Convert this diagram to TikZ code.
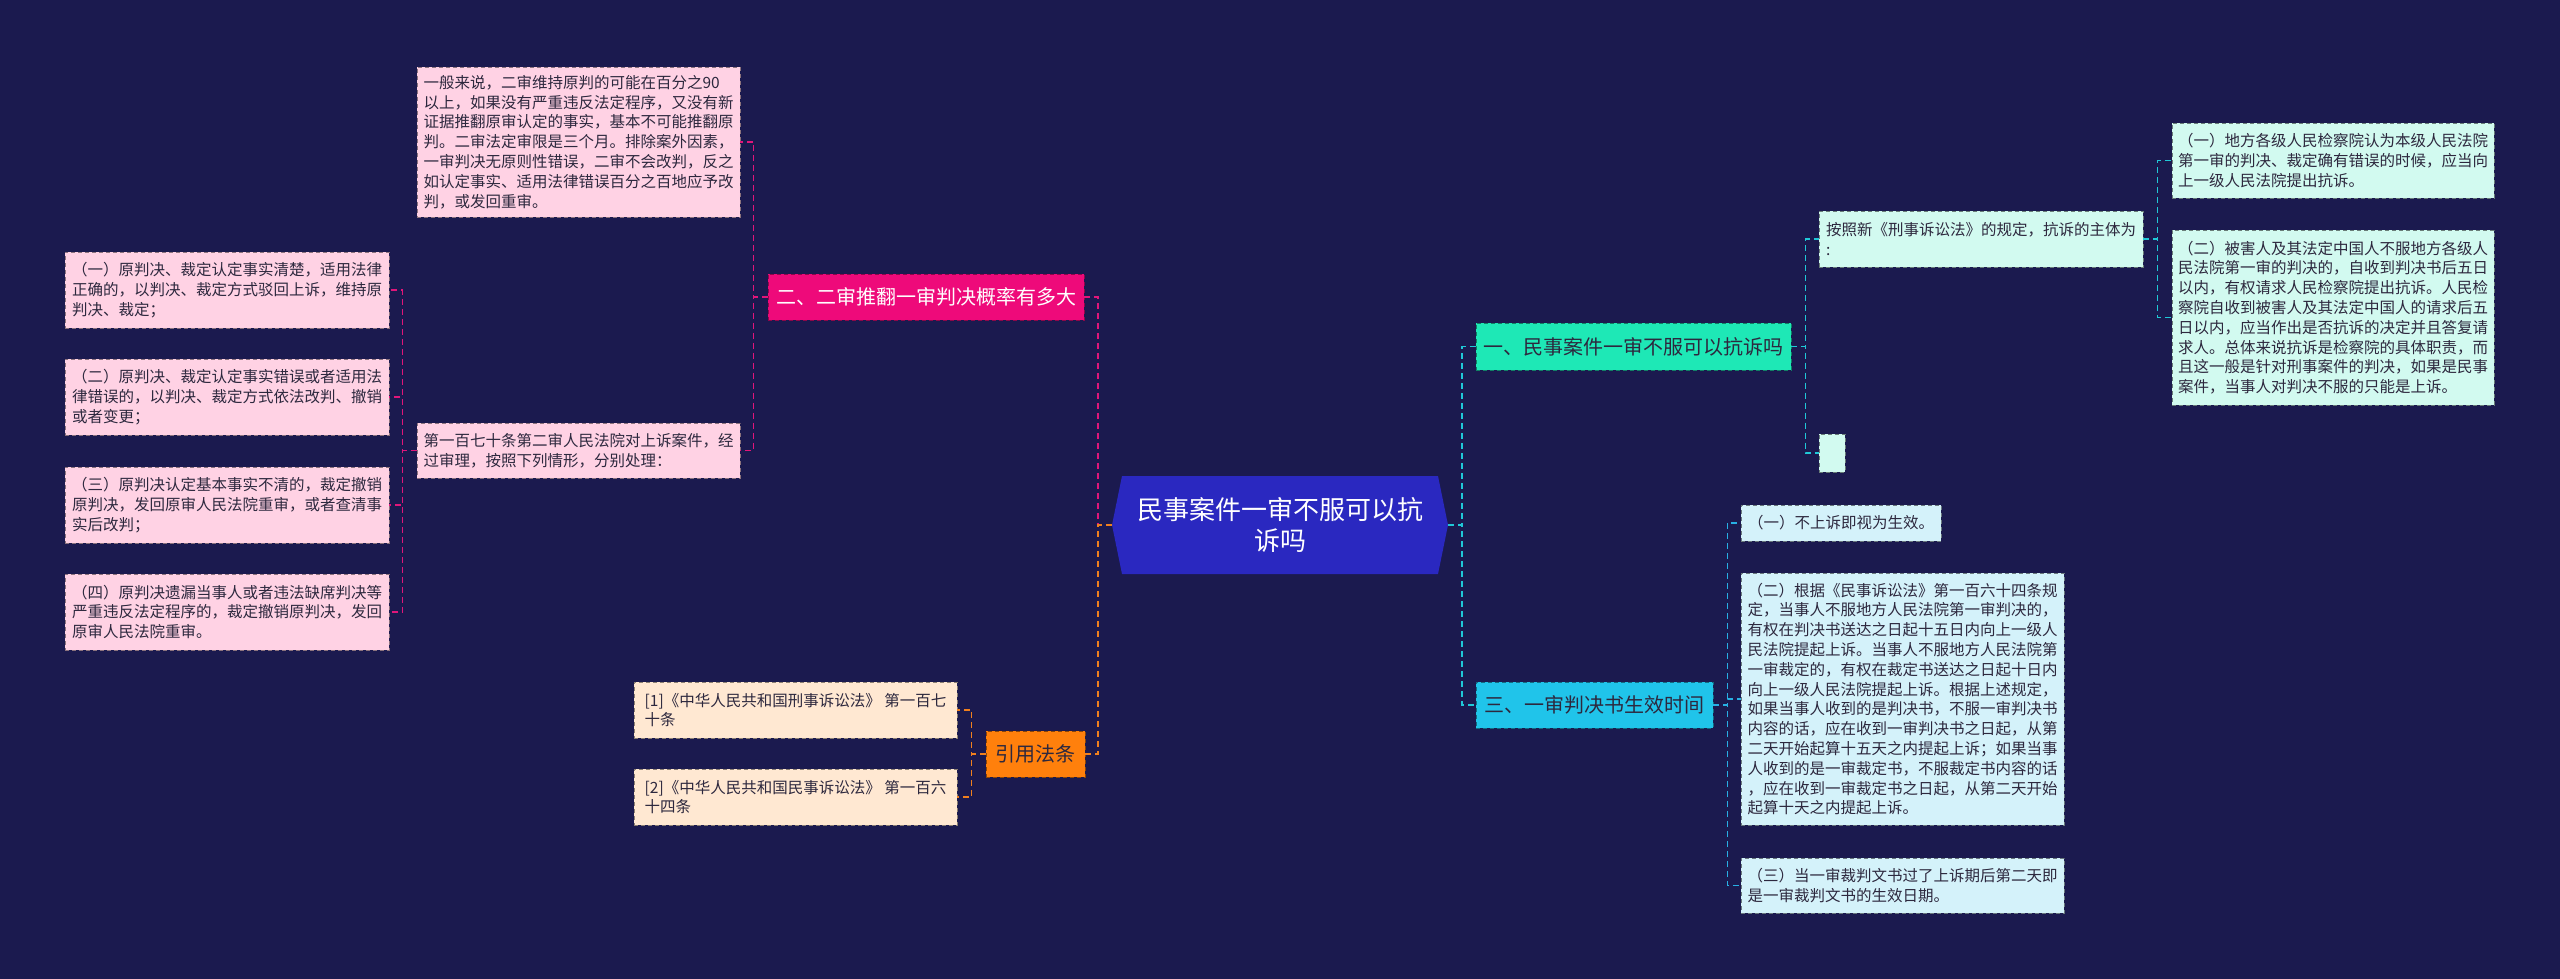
\documentclass[tikz,border=0pt]{standalone}
\usepackage{fontspec}
\setmainfont{Noto Sans CJK SC}
\usetikzlibrary{calc}
\definecolor{bg}{RGB}{27,26,79}
\definecolor{centerblue}{RGB}{42,40,192}
\definecolor{aqua}{RGB}{30,232,182}
\definecolor{skyc}{RGB}{32,196,234}
\definecolor{hotpink}{RGB}{238,10,122}
\definecolor{orangef}{RGB}{255,128,12}
\definecolor{pinklight}{RGB}{255,210,228}
\definecolor{mintlight}{RGB}{210,250,240}
\definecolor{cyanlight}{RGB}{212,242,250}
\definecolor{peach}{RGB}{255,232,210}
\definecolor{txtdark}{RGB}{45,40,62}
\definecolor{lnaqua}{RGB}{32,200,215}
\definecolor{lnsky}{RGB}{40,176,228}
\definecolor{lnpink}{RGB}{225,22,122}
\definecolor{lnorange}{RGB}{240,128,30}
\begin{document}
\begin{tikzpicture}[x=1pt,y=-1pt,
  box/.style={rectangle, line width=0.8pt, dash pattern=on 4pt off 3pt, inner sep=0pt, align=left, text=txtdark, font=\fontsize{15.5}{19.8}\selectfont},
  pinkbox/.style={box, fill=pinklight, draw=pinklight!55!black},
  mintbox/.style={box, fill=mintlight, draw=mintlight!50!black},
  cyanbox/.style={box, fill=cyanlight, draw=cyanlight!50!black},
  peachbox/.style={box, fill=peach, draw=peach!55!black},
  branch/.style={rectangle, line width=0.8pt, dash pattern=on 4pt off 3pt, inner sep=0pt, align=center, minimum height=46pt, font=\fontsize{20}{24}\selectfont},
  conn/.style={line width=1.6pt, dash pattern=on 6pt off 4pt},
]
\useasboundingbox (0,0) rectangle (2560,979);
\fill[bg] (0,0) rectangle (2560,979);

% center
\coordinate (cc) at (1280,525);
\fill[centerblue] ($(cc)+(-158,-49)$) -- ($(cc)+(158,-49)$) -- ($(cc)+(168,0)$) -- ($(cc)+(158,49)$) -- ($(cc)+(-158,49)$) -- ($(cc)+(-168,0)$) -- cycle;
\node[minimum width=336pt, minimum height=98pt, inner sep=0pt, text=white, align=center, font=\fontsize{26}{31}\selectfont] (c) at (cc) {民事案件一审不服可以抗\\诉吗};

% branches
\node[branch, fill=aqua, draw=aqua!55!black, text=txtdark, minimum width=315pt, minimum height=47pt] (b1) at (1633.5,346.5) {一、民事案件一审不服可以抗诉吗};
\node[branch, fill=skyc, draw=skyc!55!black, text=txtdark, minimum width=237pt] (b3) at (1594.5,705) {三、一审判决书生效时间};
\node[branch, fill=hotpink, draw=hotpink!60!black, text=white, minimum width=316pt] (b2) at (926,297) {二、二审推翻一审判决概率有多大};
\node[branch, fill=orangef, draw=orangef!55!black, text=txtdark, minimum width=99pt] (b4) at (1035.5,754) {引用法条};

% left side
\node[pinkbox, minimum width=323pt, minimum height=150pt] (t0) at (578.5,142) {一般来说，二审维持原判的可能在百分之90\\以上，如果没有严重违反法定程序，又没有新\\证据推翻原审认定的事实，基本不可能推翻原\\判。二审法定审限是三个月。排除案外因素，\\一审判决无原则性错误，二审不会改判，反之\\如认定事实、适用法律错误百分之百地应予改\\判，或发回重审。};
\node[pinkbox, minimum width=323pt, minimum height=55pt] (t1) at (578.5,450.5) {第一百七十条第二审人民法院对上诉案件，经\\过审理，按照下列情形，分别处理：};
\node[pinkbox, minimum width=324pt, minimum height=76pt] (l1) at (227,290) {（一）原判决、裁定认定事实清楚，适用法律\\正确的，以判决、裁定方式驳回上诉，维持原\\判决、裁定；};
\node[pinkbox, minimum width=324pt, minimum height=76pt] (l2) at (227,397) {（二）原判决、裁定认定事实错误或者适用法\\律错误的，以判决、裁定方式依法改判、撤销\\或者变更；};
\node[pinkbox, minimum width=324pt, minimum height=76pt] (l3) at (227,505) {（三）原判决认定基本事实不清的，裁定撤销\\原判决，发回原审人民法院重审，或者查清事\\实后改判；};
\node[pinkbox, minimum width=324pt, minimum height=76pt] (l4) at (227,612) {（四）原判决遗漏当事人或者违法缺席判决等\\严重违反法定程序的，裁定撤销原判决，发回\\原审人民法院重审。};
\node[peachbox, minimum width=323pt, minimum height=56pt] (r1) at (795.5,710) {[1]《中华人民共和国刑事诉讼法》 第一百七\\十条};
\node[peachbox, minimum width=323pt, minimum height=56pt] (r2) at (795.5,797) {[2]《中华人民共和国民事诉讼法》 第一百六\\十四条};

% right side
\node[mintbox, minimum width=324pt, minimum height=56pt] (a0) at (1981,239) {按照新《刑事诉讼法》的规定，抗诉的主体为\\:};
\node[mintbox, minimum width=26pt, minimum height=38pt] (a3) at (1832,453) {};
\node[mintbox, minimum width=322pt, minimum height=75pt] (a1) at (2333,160.5) {（一）地方各级人民检察院认为本级人民法院\\第一审的判决、裁定确有错误的时候，应当向\\上一级人民法院提出抗诉。};
\node[mintbox, minimum width=322pt, minimum height=175pt] (a2) at (2333,317.5) {（二）被害人及其法定中国人不服地方各级人\\民法院第一审的判决的，自收到判决书后五日\\以内，有权请求人民检察院提出抗诉。人民检\\察院自收到被害人及其法定中国人的请求后五\\日以内，应当作出是否抗诉的决定并且答复请\\求人。总体来说抗诉是检察院的具体职责，而\\且这一般是针对刑事案件的判决，如果是民事\\案件，当事人对判决不服的只能是上诉。};
\node[cyanbox, minimum width=200pt, minimum height=36pt] (k1) at (1841,523) {（一）不上诉即视为生效。};
\node[cyanbox, minimum width=323pt, minimum height=252pt] (k2) at (1902.5,699) {（二）根据《民事诉讼法》第一百六十四条规\\定，当事人不服地方人民法院第一审判决的，\\有权在判决书送达之日起十五日内向上一级人\\民法院提起上诉。当事人不服地方人民法院第\\一审裁定的，有权在裁定书送达之日起十日内\\向上一级人民法院提起上诉。根据上述规定，\\如果当事人收到的是判决书，不服一审判决书\\内容的话，应在收到一审判决书之日起，从第\\二天开始起算十五天之内提起上诉；如果当事\\人收到的是一审裁定书，不服裁定书内容的话\\，应在收到一审裁定书之日起，从第二天开始\\起算十天之内提起上诉。};
\node[cyanbox, minimum width=323pt, minimum height=55pt] (k3) at (1902.5,885.5) {（三）当一审裁判文书过了上诉期后第二天即\\是一审裁判文书的生效日期。};

% connectors
\draw[conn, lnaqua] (c.east) -- ++(14,0) |- (b1.west);
\draw[conn, lnaqua] (c.east) -- ++(14,0) |- (b3.west);
\draw[conn, lnpink] (c.west) -- ++(-14,0) |- (b2.east);
\draw[conn, lnorange] (c.west) -- ++(-14,0) |- (b4.east);

\draw[conn, lnaqua] (b1.east) -- ++(14,0) |- (a0.west);
\draw[conn, lnaqua] (b1.east) -- ++(14,0) |- (a3.west);
\draw[conn, lnaqua] (a0.east) -- ++(14,0) |- (a1.west);
\draw[conn, lnaqua] (a0.east) -- ++(14,0) |- (a2.west);

\draw[conn, lnsky] (b3.east) -- ++(14,0) |- (k1.west);
\draw[conn, lnsky] (b3.east) -- ++(14,0) |- (k2.west);
\draw[conn, lnsky] (b3.east) -- ++(14,0) |- (k3.west);

\draw[conn, lnpink] (b2.west) -- ++(-14,0) |- (t0.east);
\draw[conn, lnpink] (b2.west) -- ++(-14,0) |- (t1.east);
\draw[conn, lnpink] (t1.west) -- ++(-14,0) |- (l1.east);
\draw[conn, lnpink] (t1.west) -- ++(-14,0) |- (l2.east);
\draw[conn, lnpink] (t1.west) -- ++(-14,0) |- (l3.east);
\draw[conn, lnpink] (t1.west) -- ++(-14,0) |- (l4.east);

\draw[conn, lnorange] (b4.west) -- ++(-14,0) |- (r1.east);
\draw[conn, lnorange] (b4.west) -- ++(-14,0) |- (r2.east);
\end{tikzpicture}
\end{document}
